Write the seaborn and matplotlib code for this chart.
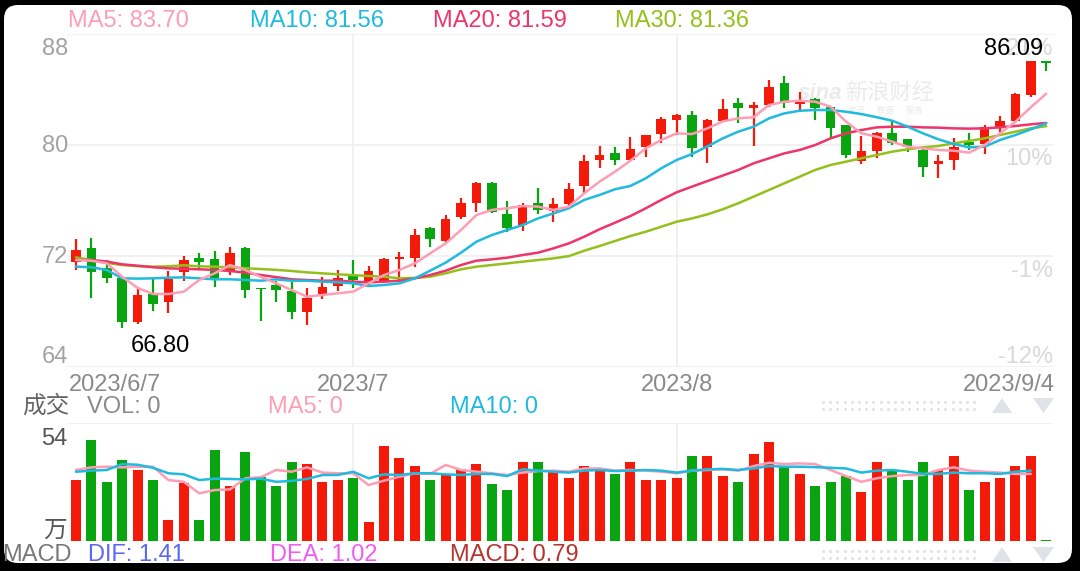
import numpy as np
import pandas as pd
import matplotlib
matplotlib.use("Agg")
import matplotlib.pyplot as plt
import seaborn as sns
from matplotlib.patches import FancyBboxPatch, Polygon

# ---------------- data ----------------
opens = [71.59, 72.56, 71.11, 70.39, 67.22, 69.24, 68.68, 70.87, 71.83, 71.81,
         70.94, 72.56, 69.70, 69.91, 69.50, 67.99, 69.24, 69.84, 70.56, 70.15,
         70.22, 71.76, 71.83, 74.02, 73.11, 74.83, 75.84, 77.28, 75.00, 74.24,
         75.84, 75.27, 75.75, 77.05, 78.92, 79.45, 78.92, 79.88, 80.77, 81.80,
         82.16, 79.88, 81.75, 83.05, 82.64, 82.88, 84.49, 82.95, 83.29, 82.72,
         81.44, 78.87, 79.59, 80.89, 80.45, 79.64, 78.63, 78.92, 80.24, 80.07,
         81.32, 81.75, 83.61, 86.06]
highs = [73.20, 73.28, 71.71, 70.45, 69.79, 70.32, 70.94, 72.00, 72.24, 72.34,
         72.67, 72.63, 69.72, 70.22, 70.15, 69.67, 70.50, 71.00, 71.71, 71.28,
         71.88, 72.31, 73.93, 74.11, 74.96, 76.16, 77.30, 77.30, 75.99, 75.84,
         76.88, 76.16, 77.28, 79.28, 79.93, 79.83, 80.60, 80.75, 82.00, 82.23,
         82.47, 81.85, 83.29, 83.37, 83.12, 84.68, 84.97, 83.84, 83.37, 82.75,
         81.45, 80.65, 80.96, 81.75, 80.46, 79.88, 79.28, 80.48, 80.89, 81.44,
         82.09, 83.77, 86.09, 86.06]
lows = [71.00, 69.00, 70.08, 66.80, 67.10, 68.04, 67.91, 70.20, 71.04, 69.74,
        70.63, 68.95, 67.34, 68.71, 67.44, 67.03, 68.88, 69.50, 69.67, 69.84,
        70.03, 70.22, 71.19, 72.67, 72.92, 74.64, 75.17, 75.08, 73.75, 73.80,
        75.03, 74.47, 75.55, 76.52, 78.32, 78.56, 78.90, 79.11, 80.12, 80.72,
        79.11, 78.72, 81.68, 81.56, 79.93, 82.76, 82.64, 82.40, 81.80, 80.48,
        79.04, 78.63, 79.04, 80.00, 79.52, 77.67, 77.60, 78.20, 79.64, 79.35,
        80.96, 81.56, 83.48, 85.35]
closes = [72.43, 70.87, 70.39, 67.27, 69.19, 68.54, 70.32, 71.71, 71.55, 70.39,
          72.24, 69.55, 69.62, 69.55, 67.99, 69.00, 69.79, 70.39, 70.27, 70.94,
          71.81, 71.95, 73.54, 73.20, 74.67, 75.84, 77.28, 75.19, 73.99, 75.68,
          75.32, 75.75, 76.83, 78.87, 79.28, 78.92, 79.71, 80.72, 81.87, 82.16,
          79.76, 81.80, 82.59, 82.64, 82.88, 84.20, 83.05, 83.12, 82.64, 81.20,
          79.28, 79.59, 80.84, 80.17, 79.83, 78.44, 78.87, 79.88, 80.00, 81.32,
          81.75, 83.68, 86.06, 85.90]
ma5 = [71.71, 71.66, 71.47, 70.50, 69.70, 69.26, 69.26, 69.43, 70.27, 70.75,
       71.35, 70.99, 70.50, 70.03, 69.55, 69.07, 69.19, 69.31, 69.43, 70.03,
       70.63, 70.99, 71.47, 72.19, 72.91, 73.87, 74.95, 75.32, 75.44, 75.60,
       75.56, 75.32, 75.56, 76.52, 77.36, 78.08, 78.87, 79.76, 80.36, 80.84,
       80.79, 81.20, 81.70, 81.92, 82.00, 82.88, 83.12, 83.19, 83.12, 82.76,
       81.68, 80.84, 80.60, 80.24, 79.88, 79.76, 79.64, 79.59, 79.45, 80.00,
       80.84, 81.68, 82.72, 83.70]
ma10 = [71.23, 71.19, 70.99, 70.39, 70.37, 70.39, 70.44, 70.46, 70.39, 70.32,
        70.32, 70.27, 70.22, 70.32, 70.22, 70.22, 70.15, 70.10, 70.03, 69.84,
        69.91, 70.03, 70.39, 70.94, 71.52, 72.24, 73.03, 73.51, 73.87, 74.23,
        74.71, 75.07, 75.44, 76.04, 76.40, 76.81, 77.05, 77.60, 78.32, 78.92,
        79.35, 79.90, 80.48, 80.96, 81.32, 81.92, 82.28, 82.47, 82.52, 82.52,
        82.40, 82.23, 82.00, 81.75, 81.32, 80.84, 80.41, 80.07, 79.83, 79.88,
        80.36, 80.72, 81.13, 81.56]
ma20 = [71.71, 71.71, 71.60, 71.40, 71.30, 71.19, 71.11, 71.08, 71.04, 71.00,
        70.92, 70.80, 70.63, 70.48, 70.32, 70.27, 70.22, 70.22, 70.15, 70.10,
        70.15, 70.22, 70.39, 70.63, 70.94, 71.35, 71.66, 71.76, 71.88, 72.07,
        72.24, 72.55, 72.91, 73.39, 73.93, 74.40, 74.88, 75.44, 76.04, 76.59,
        77.00, 77.40, 77.80, 78.20, 78.68, 79.04, 79.40, 79.64, 80.00, 80.48,
        80.84, 81.08, 81.27, 81.32, 81.32, 81.27, 81.25, 81.20, 81.18, 81.20,
        81.27, 81.37, 81.49, 81.59]
ma30 = [71.90, 71.71, 71.50, 71.35, 71.27, 71.23, 71.26, 71.33, 71.26, 71.23,
        71.19, 71.12, 71.06, 71.00, 70.92, 70.82, 70.75, 70.68, 70.62, 70.56,
        70.50, 70.40, 70.42, 70.51, 70.75, 71.04, 71.23, 71.35, 71.47, 71.59,
        71.71, 71.83, 71.99, 72.38, 72.72, 73.08, 73.44, 73.75, 74.11, 74.47,
        74.71, 75.00, 75.37, 75.80, 76.28, 76.76, 77.24, 77.72, 78.20, 78.56,
        78.80, 79.04, 79.28, 79.52, 79.69, 79.83, 79.93, 80.12, 80.29, 80.48,
        80.72, 80.96, 81.20, 81.36]
volume = [27.9, 46.2, 27.0, 37.0, 32.5, 27.9, 9.7, 26.7, 9.7, 41.6,
          25.2, 40.7, 29.2, 25.2, 36.2, 35.2, 27.0, 27.9, 28.8, 8.7,
          43.5, 38.0, 34.3, 27.9, 30.7, 33.1, 35.2, 26.1, 23.3, 36.2,
          36.2, 32.5, 28.8, 34.3, 32.5, 30.7, 36.2, 27.9, 27.9, 28.8,
          38.9, 38.9, 29.7, 27.0, 39.8, 45.3, 34.3, 30.7, 25.2, 27.0,
          29.7, 22.4, 36.2, 32.5, 27.9, 36.2, 32.5, 38.9, 23.3, 27.0,
          28.8, 34.3, 38.9, 0.5]
vol_ma5 = [32.5, 33.7, 34.0, 33.7, 34.0, 34.0, 27.9, 27.1, 21.8, 23.3,
           23.6, 28.7, 29.2, 32.5, 31.7, 33.7, 31.3, 31.0, 31.0, 25.6,
           27.6, 29.4, 31.0, 30.7, 34.8, 32.5, 31.7, 31.0, 30.2, 31.3,
           32.0, 32.2, 31.7, 33.2, 33.2, 32.2, 32.5, 32.2, 31.7, 31.0,
           32.2, 32.5, 32.8, 32.2, 34.3, 35.8, 35.2, 35.5, 35.2, 32.5,
           29.7, 27.1, 28.7, 29.7, 30.2, 30.2, 32.5, 33.7, 32.2, 31.7,
           31.3, 30.7, 30.7]
vol_ma10 = [31.7, 32.2, 32.5, 35.2, 34.9, 33.5, 31.0, 30.5, 27.9, 28.5,
            28.4, 28.2, 28.5, 27.1, 27.5, 28.4, 30.2, 30.2, 31.7, 28.7,
            30.5, 30.2, 31.0, 31.0, 30.5, 30.2, 30.7, 30.7, 29.7, 32.8,
            32.2, 31.7, 31.3, 32.2, 32.5, 32.0, 32.2, 32.5, 32.2, 31.3,
            32.2, 32.8, 33.0, 32.5, 33.2, 34.3, 34.0, 34.0, 33.8, 33.5,
            33.2, 31.3, 32.2, 32.5, 31.7, 30.7, 30.7, 31.3, 31.0, 31.0,
            30.7, 31.7, 32.2]
date_ticks = [0, 18, 39, 63]
date_labels = ["2023/6/7", "2023/7", "2023/8", "2023/9/4"]
price_ticks = [88, 80, 72, 64]
pct_labels = ["21%", "10%", "-1%", "-12%"]
legend_top = ["MA5: 83.70", "MA10: 81.56", "MA20: 81.59", "MA30: 81.36"]

# ---------------- style ----------------
sns.set_theme(style="white")
plt.rcParams['font.family'] = ['Liberation Sans', 'Noto Sans CJK SC', 'DejaVu Sans']

UP, DOWN = '#f31a0a', '#09a511'
C_MA5, C_MA10, C_MA20, C_MA30 = '#ff9db5', '#1fbadd', '#ee3468', '#95c01c'
GRID = '#efefef'
FS = 17

W, H = 1080, 571
fig = plt.figure(figsize=(W / 100, H / 100), dpi=100, facecolor='black')

bg = fig.add_axes([0, 0, 1, 1], zorder=0)
bg.set_xlim(0, W)
bg.set_ylim(H, 0)
bg.axis('off')
bg.add_patch(FancyBboxPatch((4, 5), 1068, 558,
                            boxstyle='round,pad=0,rounding_size=14',
                            fc='white', ec='none'))


def frac(x0, y0, x1, y1):
    return [x0 / W, 1 - y1 / H, (x1 - x0) / W, (y1 - y0) / H]


XL = (-0.584, 63.44)
idx = np.arange(len(closes))
o = np.array(opens); c = np.array(closes)
hi = np.array(highs); lo = np.array(lows)
cols = [UP if cc >= oo else DOWN for oo, cc in zip(o, c)]

# watermark (behind the marks)
bg.text(798, 99, "sina", fontsize=16, color='#ebebeb', fontweight='bold',
        fontstyle='italic', va='baseline', zorder=1)
bg.text(845, 99, "新浪财经", fontsize=16, color='#ebebeb', fontstyle='italic',
        va='baseline', zorder=1)
bg.text(848, 113, "资讯  ·  数据  ·  服务", fontsize=6, color='#e8e8e8',
        va='baseline', zorder=1)

# ---------------- price panel ----------------
ax = fig.add_axes(frac(67, 34, 1053, 367), zorder=2)
ax.set_facecolor('none')
ax.set_xlim(*XL)
ax.set_ylim(64, 88)
for v in price_ticks:
    ax.axhline(v, color=GRID, lw=1.2, zorder=0)
for t in date_ticks[1:3]:
    ax.axvline(t, color=GRID, lw=1.2, zorder=0)

ax.vlines(idx, lo, hi, colors=cols, lw=1.6, zorder=2)
body_h = np.maximum(np.abs(c - o), 0.08)
ax.bar(idx, body_h, bottom=np.minimum(o, c), width=0.62, color=cols,
       linewidth=0, zorder=2)

df = pd.DataFrame({'i': idx, 'ma5': ma5, 'ma10': ma10, 'ma20': ma20, 'ma30': ma30})
for col, clr in [('ma30', C_MA30), ('ma20', C_MA20), ('ma10', C_MA10), ('ma5', C_MA5)]:
    sns.lineplot(data=df, x='i', y=col, ax=ax, color=clr, linewidth=1.8,
                 legend=False, zorder=3)

for s in ax.spines.values():
    s.set_visible(False)
ax.set_xticks([]); ax.set_yticks([])
ax.set_xlabel(''); ax.set_ylabel('')

# ---------------- volume panel ----------------
axv = fig.add_axes(frac(67, 423, 1053, 541), zorder=2)
axv.set_facecolor('none')
axv.set_xlim(*XL)
axv.set_ylim(0, 54)
axv.axhline(54, color=GRID, lw=1.2, zorder=0)
axv.axhline(0, color=GRID, lw=1.2, zorder=0)
for t in date_ticks[1:3]:
    axv.axvline(t, color=GRID, lw=1.2, zorder=0)
axv.bar(idx, volume, width=0.64, color=cols, linewidth=0, zorder=2)
dv = pd.DataFrame({'i': idx[:len(vol_ma5)], 'm5': vol_ma5, 'm10': vol_ma10})
sns.lineplot(data=dv, x='i', y='m5', ax=axv, color=C_MA5, linewidth=1.8, legend=False, zorder=3)
sns.lineplot(data=dv, x='i', y='m10', ax=axv, color=C_MA10, linewidth=1.8, legend=False, zorder=3)
for s in axv.spines.values():
    s.set_visible(False)
axv.set_xticks([]); axv.set_yticks([])
axv.set_xlabel(''); axv.set_ylabel('')

# ---------------- texts ----------------
fg = fig.add_axes([0, 0, 1, 1], zorder=5)
fg.set_xlim(0, W)
fg.set_ylim(H, 0)
fg.axis('off')
fg.patch.set_alpha(0)


def T(x, y, s, color, ha='left', fs=FS, **kw):
    fg.text(x, y, s, ha=ha, va='baseline', fontsize=fs, color=color, **kw)


# top legend
for x, s, clr in zip([68, 250, 433, 615], legend_top, [C_MA5, C_MA10, C_MA20, C_MA30]):
    T(x, 27, s, clr)

# price labels (left) and percent labels (right)
for v, yb in zip(price_ticks, [55, 152, 263, 363]):
    T(68, yb, str(v), '#a3a3a3', ha='right')
for s, yb in zip(pct_labels, [55, 165, 277, 363]):
    T(1053, yb, s, '#d9d9d9', ha='right')

# extreme value labels
T(1043, 55, "86.09", 'black', ha='right')
T(131, 352, "66.80", 'black')

# date labels
for t, s in zip(date_ticks, date_labels):
    if t == 0:
        T(69, 391, s, '#8a8a8a')
    elif t == date_ticks[-1]:
        T(1055, 391, s, '#8a8a8a', ha='right')
    else:
        T(76 + t * 15.4, 391, s, '#8a8a8a', ha='center')

# volume header
T(22, 413, "成交", '#666666')
T(87, 413, "VOL: 0", '#8a8a8a')
T(268, 413, "MA5: 0", C_MA5)
T(450, 413, "MA10: 0", C_MA10)
T(67, 445, "54", '#555555', ha='right')
T(67, 537, "万", '#555555', ha='right')

# MACD footer
T(2, 561, "MACD", '#777777')
T(88, 561, "DIF: 1.41", '#5b68f0')
T(270, 561, "DEA: 1.02", '#f05cf0')
T(450, 561, "MACD: 0.79", '#b5342e')

# decorative dots / arrows
dot_x = np.arange(823, 976, 7.2)
for yy in [401.7, 409.3, 550.5, 558]:
    fg.scatter(dot_x, np.full_like(dot_x, yy), s=5, color='#e3e3e3', linewidths=0)
for yc in [406, 555]:
    fg.add_patch(Polygon([[992, yc + 7], [1012, yc + 7], [1002, yc - 8]], closed=True,
                         fc='#dfe2e6', ec='none'))
    fg.add_patch(Polygon([[1033, yc - 8], [1054, yc - 8], [1043.5, yc + 7]], closed=True,
                         fc='#dfe2e6', ec='none'))

fig.savefig("out.png", dpi=100, facecolor=fig.get_facecolor())
